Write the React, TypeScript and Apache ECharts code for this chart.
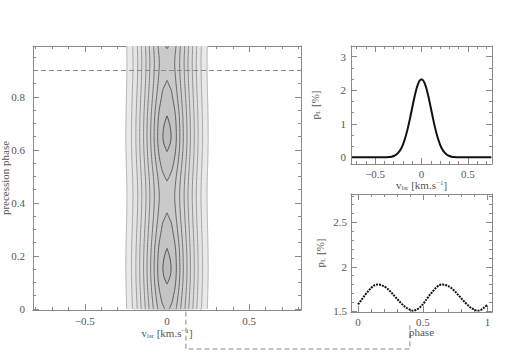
import React, { useEffect, useRef } from "react";
import * as echarts from "echarts";

// ---------- data ----------
// bottom-right panel: p_L [%] versus precession phase
const PHASE = [
  0, 0.025, 0.05, 0.075, 0.1, 0.125, 0.15, 0.175, 0.2, 0.225, 0.25, 0.275, 0.3, 0.325, 0.35, 0.375, 0.4, 0.425, 0.45, 0.475,
  0.5, 0.525, 0.55, 0.575, 0.6, 0.625, 0.65, 0.675, 0.7, 0.725, 0.75, 0.775, 0.8, 0.825, 0.85, 0.875, 0.9, 0.925, 0.95, 0.975, 1,
];
const PHASE_PL = [
  1.575, 1.625, 1.675, 1.72, 1.76, 1.79, 1.8, 1.795, 1.78, 1.755, 1.72, 1.68, 1.64, 1.6, 1.565, 1.535, 1.515, 1.505, 1.515, 1.54,
  1.575, 1.625, 1.675, 1.72, 1.76, 1.79, 1.8, 1.795, 1.78, 1.755, 1.72, 1.68, 1.64, 1.6, 1.565, 1.535, 1.515, 1.505, 1.515, 1.54, 1.575,
];

// top-right panel: p_L [%] versus v_lsr
const VLSR = [
  -0.75, -0.725, -0.7, -0.675, -0.65, -0.625, -0.6, -0.575, -0.55, -0.525, -0.5, -0.475, -0.45, -0.425, -0.4, -0.375, -0.35,
  -0.325, -0.3, -0.275, -0.25, -0.225, -0.2, -0.175, -0.15, -0.125, -0.1, -0.075, -0.05, -0.025, 0, 0.025, 0.05, 0.075, 0.1,
  0.125, 0.15, 0.175, 0.2, 0.225, 0.25, 0.275, 0.3, 0.325, 0.35, 0.375, 0.4, 0.425, 0.45, 0.475, 0.5, 0.525, 0.55, 0.575, 0.6,
  0.625, 0.65, 0.675, 0.7, 0.725, 0.75,
];
const PROFILE_PL = [
  0, 0, 0, 0, 0, 0, 0, 0, 0, 0, 0, 0, 0, 0.001, 0.002, 0.004, 0.009, 0.019, 0.039, 0.075, 0.137, 0.235, 0.38, 0.581, 0.84, 1.147,
  1.48, 1.805, 2.08, 2.265, 2.33, 2.265, 2.08, 1.805, 1.48, 1.147, 0.84, 0.581, 0.38, 0.235, 0.137, 0.075, 0.039, 0.019, 0.009,
  0.004, 0.002, 0.001, 0, 0, 0, 0, 0, 0, 0, 0, 0, 0, 0, 0, 0,
];

// left panel: contour levels of the (v_lsr, phase) map, outer to inner
const CONTOUR_LEVELS = [0.105, 0.22, 0.36, 0.52, 0.72, 0.92, 1.15, 1.36, 1.55, 1.75];
const MARKED_PHASE = 0.9;
const MARKED_V = 0.115;
const MARKED_PHASE_B = 0.4;

// ---------- styles ----------
const FILLS = ["#e9e9e9", "#e4e4e4", "#dfdfdf", "#dbdbdb", "#d7d7d7", "#d3d3d3", "#cfcfcf", "#cacaca", "#c4c4c4", "#bdbdbd"];
const STROKES = ["#b4b4b4", "#a6a6a6", "#9a9a9a", "#8f8f8f", "#858585", "#7b7b7b", "#717171", "#676767", "#5c5c5c", "#505050"];
const FONT = "Liberation Serif";
const TXT = "#555";
const FRAME = "#8a8a8a";

type Pt = [number, number];
type Shape = { fill: Pt[]; lines: Pt[][] };

function buildContours(): Shape[][] {
  const pmax = Math.max(...PROFILE_PL);
  const c = PROFILE_PL.indexOf(pmax);
  const R = PROFILE_PL.map((p) => p / pmax);
  const vc = VLSR[c];
  const right = (r: number) => {
    for (let i = c; i < R.length - 1; i++) {
      if (R[i] >= r && R[i + 1] < r) return VLSR[i] + ((R[i] - r) / (R[i] - R[i + 1])) * (VLSR[i + 1] - VLSR[i]);
    }
    return VLSR[R.length - 1];
  };
  const left = (r: number) => {
    for (let i = c; i > 0; i--) {
      if (R[i] >= r && R[i - 1] < r) return VLSR[i] + ((R[i] - r) / (R[i] - R[i - 1])) * (VLSR[i - 1] - VLSR[i]);
    }
    return VLSR[0];
  };
  const M = PHASE_PL;
  const n = PHASE.length;
  return CONTOUR_LEVELS.map((L) => {
    const shapes: Shape[] = [];
    let j = 0;
    while (j < n) {
      if (L >= M[j]) {
        j++;
        continue;
      }
      const a = j;
      while (j < n && L < M[j]) j++;
      const b = j - 1;
      const rightPts: Pt[] = [];
      const leftPts: Pt[] = [];
      for (let k = a; k <= b; k++) {
        rightPts.push([right(L / M[k]), PHASE[k]]);
        leftPts.push([left(L / M[k]), PHASE[k]]);
      }
      const leftRev = leftPts.slice().reverse();
      const startTip: Pt | null =
        a > 0 ? [vc, PHASE[a - 1] + ((L - M[a - 1]) / (M[a] - M[a - 1])) * (PHASE[a] - PHASE[a - 1])] : null;
      const endTip: Pt | null =
        b < n - 1 ? [vc, PHASE[b] + ((M[b] - L) / (M[b] - M[b + 1])) * (PHASE[b + 1] - PHASE[b])] : null;
      if (startTip && endTip) {
        const loop = [startTip, ...rightPts, endTip, ...leftRev, startTip];
        shapes.push({ fill: loop, lines: [loop] });
      } else if (startTip) {
        const p = [...leftRev, startTip, ...rightPts];
        shapes.push({ fill: p, lines: [p] });
      } else if (endTip) {
        const p = [...rightPts, endTip, ...leftRev];
        shapes.push({ fill: p, lines: [p] });
      } else {
        shapes.push({ fill: [...rightPts, ...leftRev], lines: [rightPts, leftPts] });
      }
    }
    return shapes;
  });
}

const fmt = (v: number) => {
  const s = String(Math.round(v * 1000) / 1000);
  return s.startsWith("-") ? "\u2212" + s.slice(1) : s;
};

const rich = {
  i: { fontFamily: FONT, fontSize: 11, color: TXT, lineHeight: 12 },
  sub: { fontFamily: FONT, fontSize: 7, color: TXT, verticalAlign: "bottom", lineHeight: 6 },
  sup: { fontFamily: FONT, fontSize: 7, color: TXT, verticalAlign: "top", lineHeight: 6 },
};

function axis(
  gridIndex: number,
  min: number,
  max: number,
  interval: number,
  minorSplit: number,
  position: string,
  labels: boolean,
  name?: string,
  nameGap?: number,
  labelMargin?: number
) {
  return {
    type: "value",
    gridIndex,
    min,
    max,
    minInterval: interval,
    maxInterval: interval,
    position,
    name: name || "",
    nameLocation: "middle",
    nameGap: nameGap || 0,
    nameMoveOverlap: false,
    nameTextStyle: { rich },
    axisLine: { show: true, onZero: false, lineStyle: { color: FRAME, width: 1 } },
    axisTick: { show: true, inside: true, length: 6, lineStyle: { color: FRAME } },
    minorTick: { show: true, splitNumber: minorSplit, length: 3, lineStyle: { color: FRAME } },
    splitLine: { show: false },
    minorSplitLine: { show: false },
    axisLabel: {
      show: labels,
      showMinLabel: false,
      showMaxLabel: false,
      fontFamily: FONT,
      fontSize: 11,
      color: TXT,
      margin: labelMargin ?? 5,
      formatter: fmt,
    },
  };
}

export default function App() {
  const ref = useRef<HTMLDivElement>(null);
  useEffect(() => {
    document.body.style.margin = "0";
    if (!ref.current) return;
    const chart = echarts.init(ref.current, undefined, { renderer: "svg" });
    const contours = buildContours();
    const vName = "{i|v}{sub|lsr}{i| [km.s}{sup|\u22121}{i|]}";
    const pName = "{i|p}{sub|L}{i| [%]}";

    chart.setOption({
      animation: false,
      grid: [
        { left: 33, top: 46, width: 268, height: 264, outerBoundsMode: "none", containLabel: false },
        { left: 351, top: 46, width: 141, height: 118, outerBoundsMode: "none", containLabel: false },
        { left: 351, top: 194, width: 141, height: 118, outerBoundsMode: "none", containLabel: false },
      ],
      xAxis: [
        axis(0, -0.815, 0.815, 0.5, 5, "bottom", true, vName, 17, 5),
        axis(0, -0.815, 0.815, 0.5, 5, "top", false),
        axis(1, -0.76, 0.76, 0.5, 5, "bottom", true, vName, 15, 4),
        axis(1, -0.76, 0.76, 0.5, 5, "top", false),
        axis(2, -0.055, 1.035, 0.5, 5, "bottom", true, "{i|phase}", 14, 4),
        axis(2, -0.055, 1.035, 0.5, 5, "top", false),
      ],
      yAxis: [
        axis(0, -0.004, 0.992, 0.2, 4, "left", true, "{i|precession phase}", 22, 8),
        axis(0, -0.004, 0.992, 0.2, 4, "right", false),
        axis(1, -0.2, 3.32, 1, 3, "left", true, pName, 30, 5),
        axis(1, -0.2, 3.32, 1, 3, "right", false),
        axis(2, 1.49, 2.82, 0.5, 5, "left", true, pName, 25, 4),
        axis(2, 1.49, 2.82, 0.5, 5, "right", false),
      ],
      series: [
        {
          type: "custom",
          coordinateSystem: "cartesian2d",
          xAxisIndex: 0,
          yAxisIndex: 0,
          clip: true,
          silent: true,
          data: CONTOUR_LEVELS.map((_, k) => [k, 0]),
          renderItem: (_params: any, api: any) => {
            const k = api.value(0) as number;
            const children: any[] = [];
            for (const s of contours[k]) {
              children.push({
                type: "polygon",
                shape: { points: s.fill.map((p) => api.coord(p)), smooth: 0.25 },
                style: { fill: FILLS[k], stroke: null },
              });
              for (const line of s.lines) {
                children.push({
                  type: "polyline",
                  shape: { points: line.map((p) => api.coord(p)), smooth: 0.25 },
                  style: { stroke: STROKES[k], lineWidth: 1, fill: null },
                });
              }
            }
            return { type: "group", children };
          },
          markLine: {
            silent: true,
            symbol: "none",
            label: { show: false },
            lineStyle: { type: [5, 3], color: "#8a8a8a", width: 1 },
            data: [{ yAxis: MARKED_PHASE }],
          },
        },
        {
          type: "line",
          xAxisIndex: 2,
          yAxisIndex: 2,
          data: VLSR.map((v, i) => [v, PROFILE_PL[i]]),
          showSymbol: false,
          smooth: 0.3,
          lineStyle: { color: "#111", width: 2 },
        },
        {
          type: "line",
          xAxisIndex: 4,
          yAxisIndex: 4,
          data: PHASE.map((p, i) => [p, PHASE_PL[i]]),
          showSymbol: false,
          smooth: 0.3,
          lineStyle: { color: "#111", width: 2, type: [2, 1] },
        },
      ],
    });

    const xa = chart.convertToPixel({ xAxisIndex: 0 }, MARKED_V) as number;
    const xb = chart.convertToPixel({ xAxisIndex: 4 }, MARKED_PHASE_B) as number;
    const yStart = chart.convertToPixel({ yAxisIndex: 0 }, 0.02) as number;
    chart.setOption({
      graphic: [
        {
          type: "polyline",
          silent: true,
          shape: { points: [[xa, yStart], [xa, 349], [xb, 349], [xb, 325]] },
          style: { stroke: "#8a8a8a", lineWidth: 1, lineDash: [5, 3], fill: null },
        },
      ],
    });

    return () => chart.dispose();
  }, []);
  return <div ref={ref} style={{ width: 506, height: 354 }} />;
}
